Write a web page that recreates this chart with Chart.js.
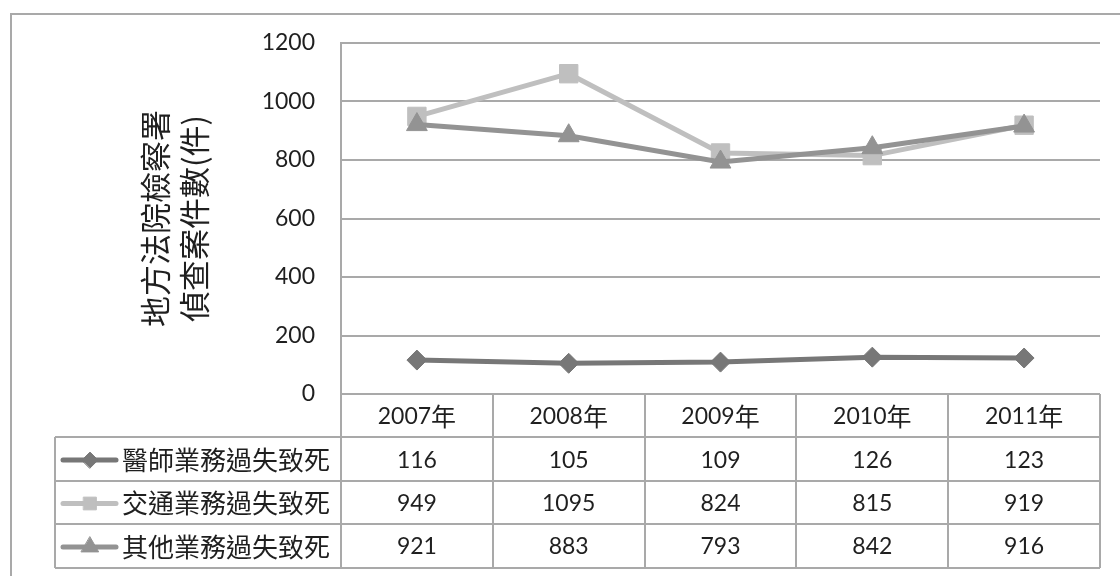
<!DOCTYPE html>
<html>
<head>
<meta charset="utf-8">
<script src="https://cdn.jsdelivr.net/npm/chart.js@4/dist/chart.umd.min.js"></script>
<style>
  html, body { margin: 0; padding: 0; background: #ffffff; }
  #wrap { width: 1120px; height: 576px; }
</style>
</head>
<body>
<div id="wrap"><canvas id="c" width="1120" height="576"></canvas></div>
<script>
// Years shown along the bottom table
const years = ['2007年', '2008年', '2009年', '2010年', '2011年'];

// Case counts per year
const medicalDeaths = [116, 105, 109, 126, 123];   // 醫師業務過失致死
const trafficDeaths = [949, 1095, 824, 815, 919];  // 交通業務過失致死
const otherDeaths   = [921, 883, 793, 842, 916];   // 其他業務過失致死

const seriesNames = ['醫師業務過失致死', '交通業務過失致死', '其他業務過失致死'];
const yTicks = [0, 200, 400, 600, 800, 1000, 1200];
const yTitle = ['地方法院檢察署', '偵查案件數(件)'];

const LATIN = 'Lato, "Open Sans", sans-serif';
const CJK = '"Noto Sans CJK TC", "Noto Sans CJK SC", sans-serif';
const LINE_GRAY = '#a9a9a9';
const TEXT = '#1f1f1f';
const DIGIT_SIZE = 23;

// Draw text that mixes Latin digits and CJK glyphs, each run in its own font
function runsOf(text) {
  const runs = [];
  const re = /[\u3000-\u9fff\uff00-\uffef]/;
  for (const ch of text) {
    const cjk = re.test(ch);
    if (runs.length && runs[runs.length - 1].cjk === cjk) runs[runs.length - 1].t += ch;
    else runs.push({ t: ch, cjk });
  }
  return runs;
}
function drawMixed(ctx, text, x, y, align, latinSize, cjkSize) {
  const runs = runsOf(text);
  let total = 0;
  for (const r of runs) {
    ctx.font = r.cjk ? `${cjkSize}px ${CJK}` : `${latinSize}px ${LATIN}`;
    r.w = ctx.measureText(r.t).width;
    total += r.w;
  }
  let cx = align === 'center' ? x - total / 2 : (align === 'right' ? x - total : x);
  ctx.textAlign = 'left';
  ctx.textBaseline = 'middle';
  for (const r of runs) {
    ctx.font = r.cjk ? `${cjkSize}px ${CJK}` : `${latinSize}px ${LATIN}`;
    ctx.fillText(r.t, cx, y);
    cx += r.w;
  }
}

const seriesStyles = [
  { color: '#777777', pointStyle: 'rectRot', radius: 10, legendRadius: 8 },
  { color: '#bfbfbf', pointStyle: 'rect', radius: 13, legendRadius: 9 },
  { color: '#939393', pointStyle: 'triangle', radius: 12, legendRadius: 10 }
];
const seriesData = [medicalDeaths, trafficDeaths, otherDeaths];

// Outer frame, data table and legend keys below the plot
const tablePlugin = {
  id: 'dataTable',
  afterDraw(chart) {
    const ctx = chart.ctx;
    const area = chart.chartArea;
    const xs = chart.scales.x;
    const colW = area.width / years.length;
    const rowH = 43.4;
    const top = area.bottom;
    const legendLeft = 55;
    ctx.save();

    // outer frame
    ctx.strokeStyle = LINE_GRAY;
    ctx.lineWidth = 2;
    ctx.beginPath();
    ctx.moveTo(11, 580);
    ctx.lineTo(11, 14);
    ctx.lineTo(1124, 14);
    ctx.stroke();

    // table grid
    ctx.lineWidth = 2;
    ctx.beginPath();
    for (let r = 1; r <= seriesNames.length + 1; r++) {
      const y = Math.round(top + r * rowH);
      ctx.moveTo(legendLeft, y);
      ctx.lineTo(area.right, y);
    }
    const yBottom = Math.round(top + (seriesNames.length + 1) * rowH);
    ctx.moveTo(area.left, top);
    ctx.lineTo(area.left, yBottom);
    for (let i = 0; i < years.length; i++) {
      const x = Math.round(xs.getPixelForValue(i) + colW / 2);
      ctx.moveTo(x, top);
      ctx.lineTo(x, yBottom);
    }
    ctx.moveTo(legendLeft, Math.round(top + rowH));
    ctx.lineTo(legendLeft, yBottom);
    ctx.stroke();

    // header row with years
    ctx.fillStyle = TEXT;
    years.forEach((yr, i) => {
      drawMixed(ctx, yr, xs.getPixelForValue(i), top + rowH / 2 + 1, 'center', DIGIT_SIZE, 25);
    });

    // one row per series: key, name, values
    seriesNames.forEach((name, s) => {
      const cy = top + rowH * (s + 1) + rowH / 2 + 1;
      const st = seriesStyles[s];
      ctx.strokeStyle = st.color;
      ctx.fillStyle = st.color;
      ctx.lineWidth = 5;
      ctx.lineCap = 'round';
      ctx.beginPath();
      ctx.moveTo(63, cy);
      ctx.lineTo(116, cy);
      ctx.stroke();
      ctx.lineWidth = 1;
      Chart.helpers.drawPoint(ctx, { pointStyle: st.pointStyle, radius: st.legendRadius, rotation: 0, borderWidth: 1 }, 90, cy);

      ctx.fillStyle = TEXT;
      drawMixed(ctx, name, 122, cy, 'left', DIGIT_SIZE, 26);
      seriesData[s].forEach((v, i) => {
        drawMixed(ctx, String(v), xs.getPixelForValue(i), cy, 'center', DIGIT_SIZE, 26);
      });
    });
    ctx.restore();
  }
};

const datasets = seriesNames.map((name, s) => ({
  label: name,
  data: seriesData[s],
  borderColor: seriesStyles[s].color,
  backgroundColor: seriesStyles[s].color,
  pointBackgroundColor: seriesStyles[s].color,
  pointBorderColor: seriesStyles[s].color,
  pointStyle: seriesStyles[s].pointStyle,
  pointRadius: seriesStyles[s].radius,
  pointHoverRadius: seriesStyles[s].radius,
  pointBorderWidth: 1,
  borderWidth: 5,
  tension: 0,
  order: [0, 2, 1][s]
}));

new Chart(document.getElementById('c'), {
  type: 'line',
  data: { labels: years, datasets },
  options: {
    responsive: false,
    animation: false,
    devicePixelRatio: 1,
    layout: { padding: { left: 0, top: 43, right: 20, bottom: 182 } },
    plugins: {
      legend: { display: false },
      tooltip: { enabled: false },
      title: { display: false }
    },
    scales: {
      x: {
        type: 'category',
        display: false,
        offset: true
      },
      y: {
        min: 0,
        max: 1200,
        afterBuildTicks(scale) { scale.ticks = yTicks.map(v => ({ value: v })); },
        afterFit(scale) { scale.width = 341; },
        ticks: {
          padding: 26,
          color: TEXT,
          font: { family: LATIN, size: DIGIT_SIZE },
          callback: (v) => String(v)
        },
        grid: {
          color: LINE_GRAY,
          lineWidth: 2,
          drawTicks: false
        },
        border: { display: true, color: LINE_GRAY, width: 2 },
        title: {
          display: true,
          text: yTitle,
          color: TEXT,
          font: { family: CJK, size: 31, lineHeight: 1.25 },
          padding: { top: 136, bottom: 0 }
        }
      }
    }
  },
  plugins: [tablePlugin]
});
</script>
</body>
</html>
